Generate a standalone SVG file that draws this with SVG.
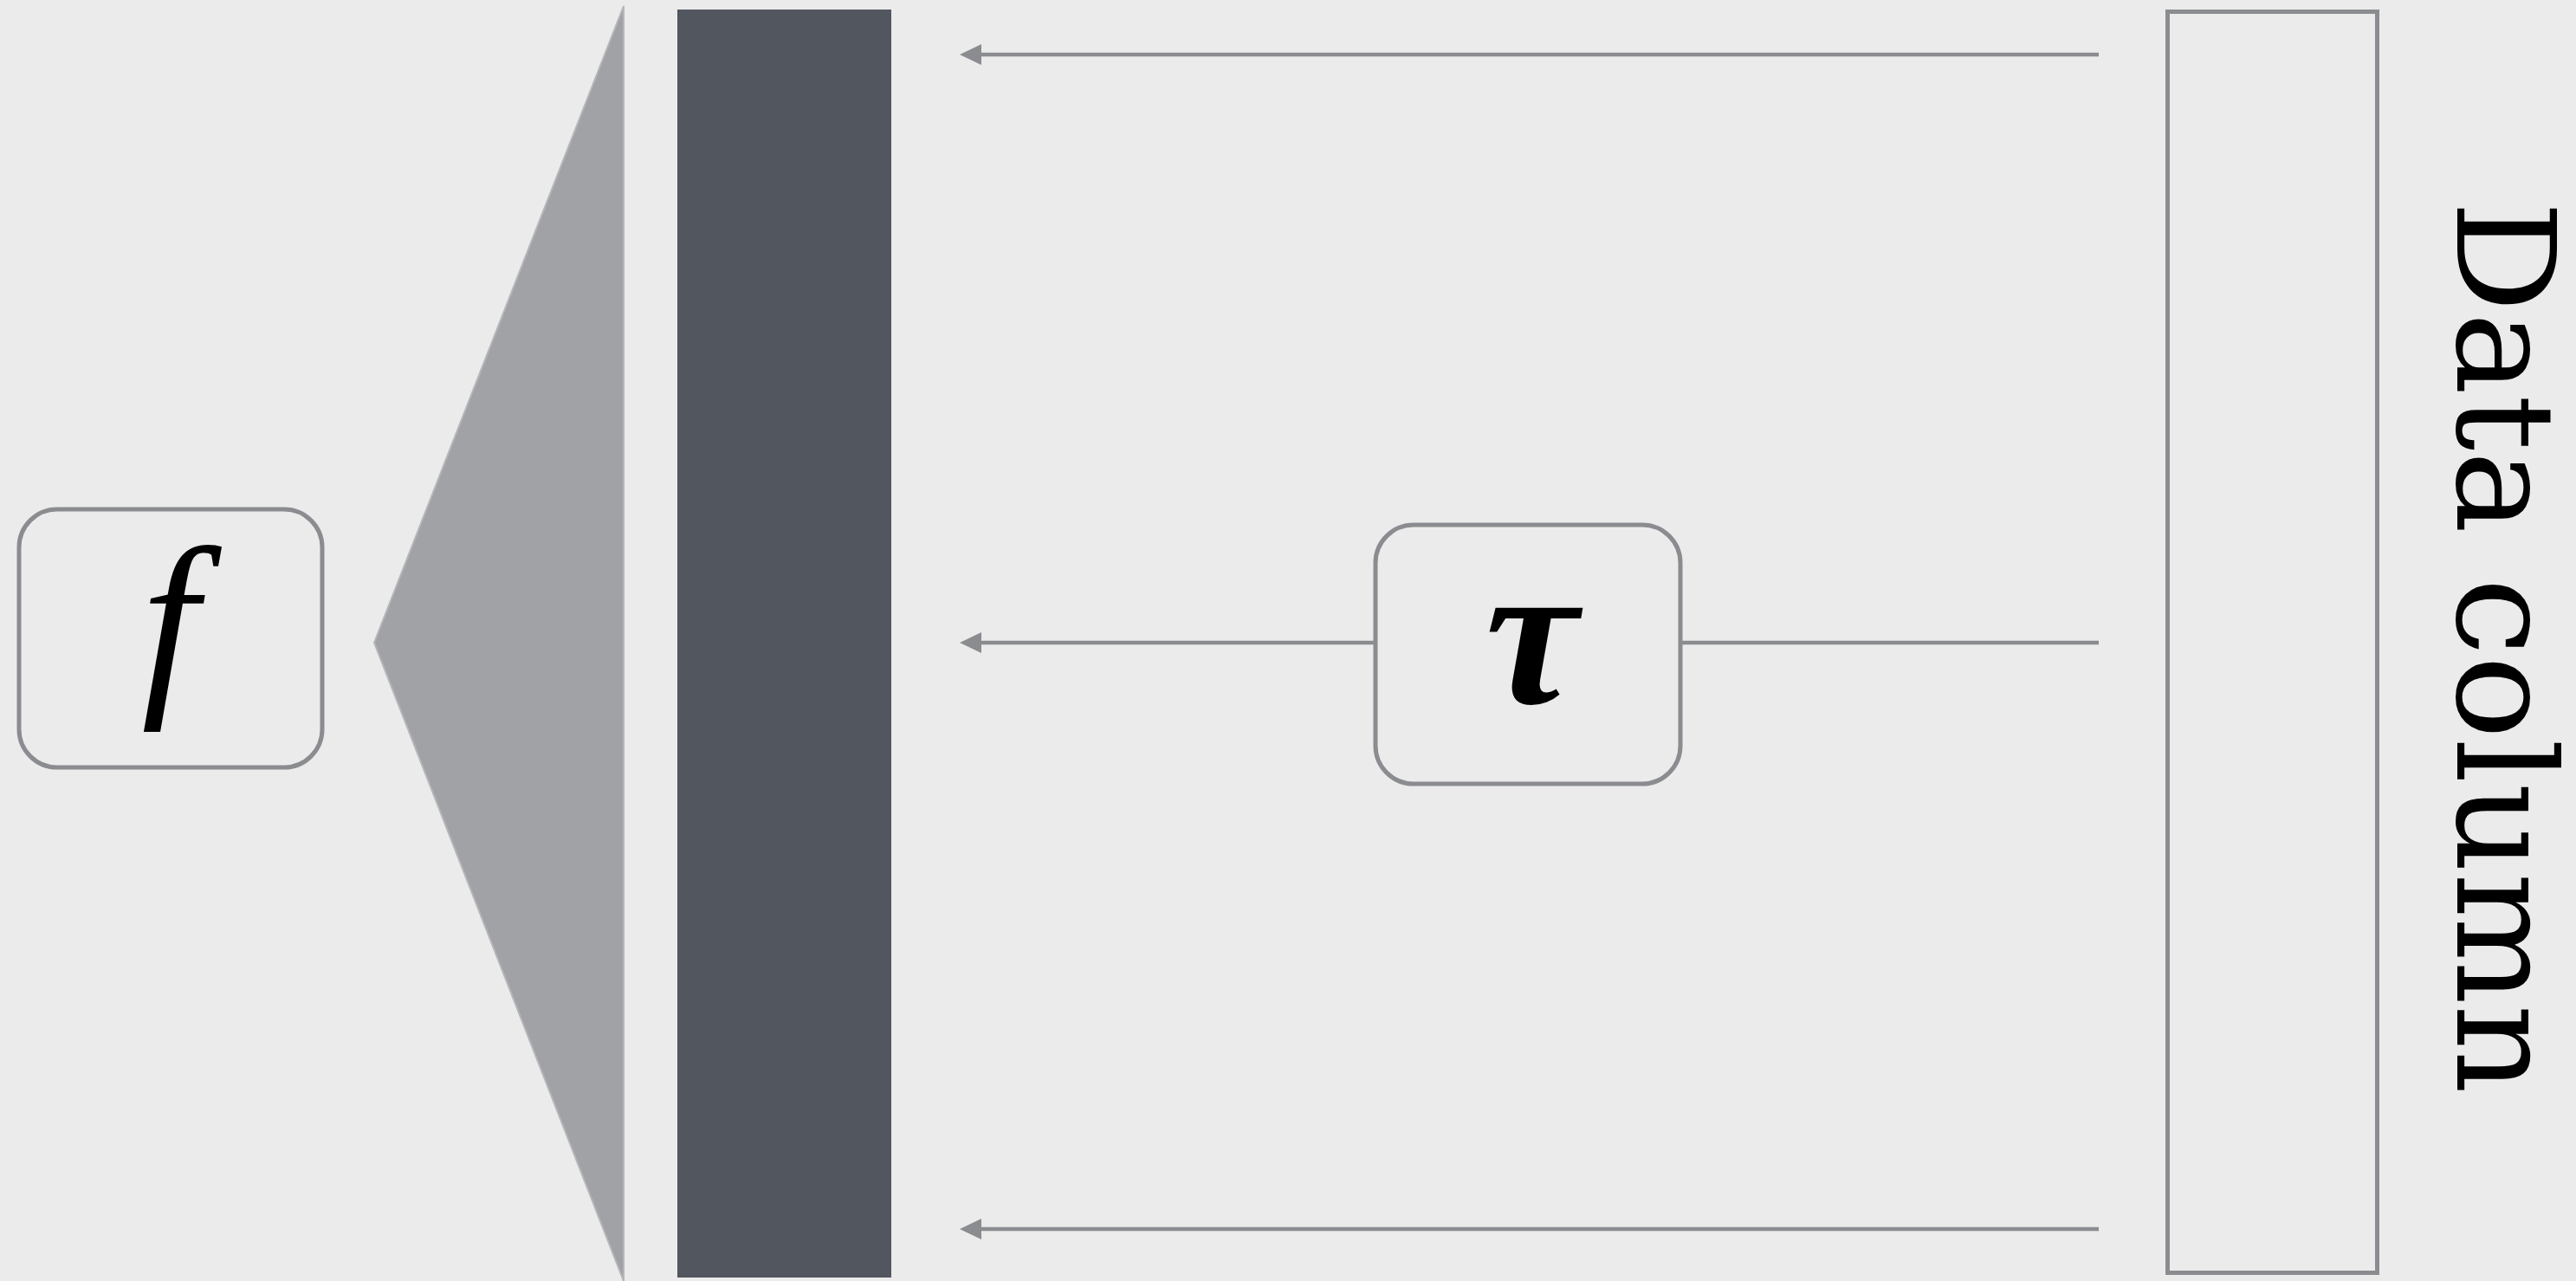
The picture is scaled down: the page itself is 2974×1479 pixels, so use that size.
<svg xmlns="http://www.w3.org/2000/svg" width="2974" height="1479" viewBox="0 0 2974 1479">
  <defs>
    <style>
      .box { fill: #EBEBEB; stroke: #8A8C90; stroke-width: 5; }
      .conn { stroke: #8A8C90; stroke-width: 4.5; fill: none; }
      .math { font-family: "Times New Roman", Tinos, "Nimbus Roman", "Liberation Serif", serif; font-style: italic; fill: #000; }
    </style>
    <marker id="arrow" markerUnits="userSpaceOnUse" viewBox="0 0 25 24" refX="13" refY="12" markerWidth="25" markerHeight="24" orient="auto">
      <path d="M0,0 L25,12 L0,24 z" fill="#8A8C90"/>
    </marker>
  </defs>
  <rect x="0" y="0" width="2974" height="1479" fill="#EBEBEB"/>

  <g id="funnel">
    <polygon points="432,742 720,7 720,1479" fill="#A1A2A6" stroke="#B5B6B9" stroke-width="2"/>
  </g>
  <g id="bar">
    <rect x="782" y="11" width="247" height="1464" fill="#52565E"/>
  </g>

  <g id="connectors">
    <line class="conn" x1="2423" y1="63" x2="1120" y2="63" marker-end="url(#arrow)"/>
    <line class="conn" x1="2423" y1="742" x2="1120" y2="742" marker-end="url(#arrow)"/>
    <line class="conn" x1="2423" y1="1419" x2="1120" y2="1419" marker-end="url(#arrow)"/>
  </g>

  <g id="node-f">
    <rect class="box" x="22" y="588" width="350" height="298" rx="44" ry="44"/>
    <text class="math" x="196" y="795" font-size="236" text-anchor="middle">f</text>
  </g>

  <g id="node-tau">
    <rect class="box" x="1588" y="606" width="352" height="299" rx="44" ry="44"/>
    <text class="math" x="1768" y="812" font-size="240" font-weight="bold" text-anchor="middle">τ</text>
  </g>

  <g id="data-column">
    <rect class="box" x="2502.5" y="13.5" width="242" height="1456" fill="none"/>
    <text transform="translate(2837,232) rotate(90)" x="0" y="0" font-family="'DejaVu Serif', serif" font-size="158" textLength="1031" lengthAdjust="spacingAndGlyphs" fill="#000">Data column</text>
  </g>
</svg>
